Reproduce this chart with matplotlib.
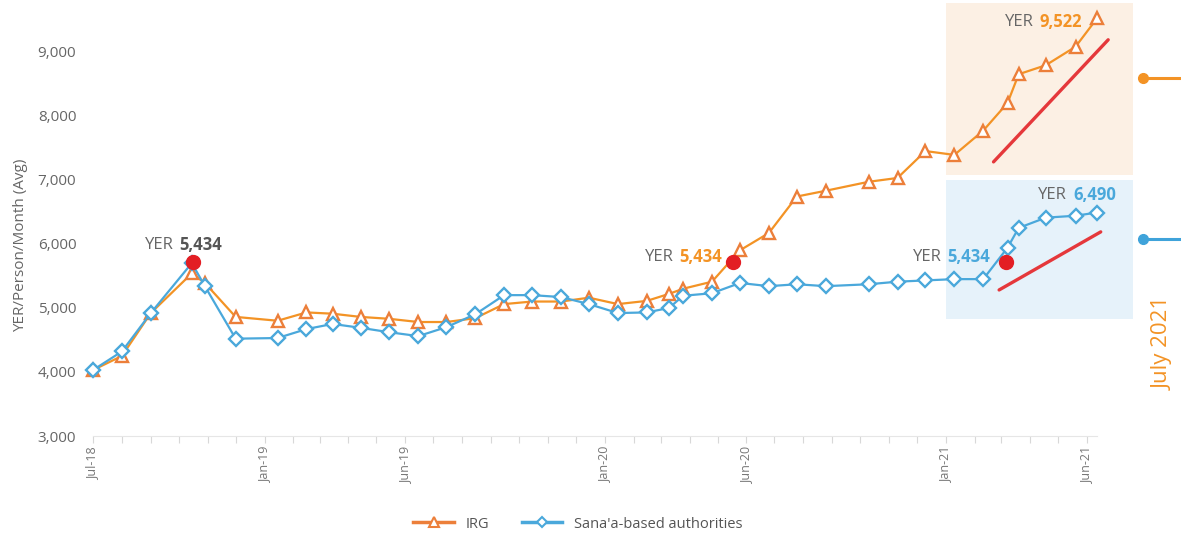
import matplotlib
matplotlib.use("Agg")
import matplotlib.pyplot as plt
import pandas as pd
from matplotlib.lines import Line2D
from matplotlib.patches import Rectangle

ORANGE = "#F39325"
ORANGE_EDGE = "#EC7F3A"
BLUE = "#4AA8DB"
RED = "#E31E24"
GREY = "#666666"

dates = [
    "2018-07-01", "2018-08-01", "2018-09-01", "2018-10-15", "2018-10-29", "2018-12-01",
    "2019-01-15", "2019-02-15", "2019-03-15", "2019-04-14", "2019-05-15", "2019-06-15",
    "2019-07-15", "2019-08-15", "2019-09-15", "2019-10-15", "2019-11-15", "2019-12-15",
    "2020-01-15", "2020-02-15", "2020-03-10", "2020-03-25", "2020-04-25", "2020-05-25",
    "2020-06-25", "2020-07-25", "2020-08-25", "2020-10-10", "2020-11-10", "2020-12-10",
    "2021-01-10", "2021-02-10", "2021-03-08", "2021-03-20", "2021-04-18", "2021-05-20",
    "2021-06-12",
]
irg = [
    4030, 4250, 4920, 5540, 5390, 4860, 4800, 4930, 4910, 4860, 4830, 4780, 4780,
    4840, 5060, 5100, 5100, 5160, 5060, 5110, 5220, 5300, 5410, 5900, 6170, 6740,
    6830, 6970, 7030, 7450, 7390, 7770, 8200, 8650, 8790, 9080, 9522,
]
sanaa = [
    4030, 4320, 4920, 5700, 5340, 4520, 4530, 4670, 4750, 4690, 4620, 4560, 4700,
    4900, 5200, 5200, 5170, 5060, 4920, 4930, 5000, 5190, 5230, 5390, 5340, 5370,
    5340, 5370, 5410, 5430, 5450, 5450, 5940, 6250, 6410, 6440, 6490,
]

# red highlight dots and the two red trend strokes
dot_dates = ["2018-10-16", "2020-05-17", "2021-03-06"]
dot_values = [5720, 5720, 5720]
trend_irg_dates = ["2021-02-21", "2021-06-24"]
trend_irg_values = [7281, 9188]
trend_sanaa_dates = ["2021-02-27", "2021-06-16"]
trend_sanaa_values = [5281, 6188]

labelled_months = ["2018-07", "2019-01", "2019-06", "2020-01", "2020-06", "2021-01", "2021-06"]

plt.rcParams.update({"font.family": ["Open Sans", "DejaVu Sans"]})

W, H = 1181, 540
fig = plt.figure(figsize=(W / 100, H / 100), dpi=100)


def px(x, y):
    return x / W, 1 - y / H


ax = fig.add_axes([93 / W, 1 - 436 / H, (1097 - 93) / W, (436 - 7) / H])
ax.set_facecolor("none")

x = pd.to_datetime(dates)
ax.plot(x, irg, color=ORANGE, lw=1.6, marker="^", ms=9, mfc="white", mec=ORANGE_EDGE,
        mew=1.7, clip_on=False, zorder=3)
ax.plot(x, sanaa, color=BLUE, lw=1.6, marker="D", ms=6.8, mfc="white", mec=BLUE,
        mew=1.7, clip_on=False, zorder=3)
ax.plot(pd.to_datetime(dot_dates), dot_values, ls="none", marker="o", ms=10, color=RED,
        clip_on=False, zorder=4)
ax.plot(pd.to_datetime(trend_irg_dates), trend_irg_values, color="#E5383B", lw=2.4,
        clip_on=False, zorder=3, solid_capstyle="round")
ax.plot(pd.to_datetime(trend_sanaa_dates), trend_sanaa_values, color="#E5383B", lw=2.4,
        clip_on=False, zorder=3, solid_capstyle="round")

ax.set_xlim(pd.Timestamp("2018-07-01"), pd.Timestamp("2021-06-12"))
ax.set_ylim(3000, 9700)

months = pd.date_range("2018-07-01", "2021-06-01", freq="MS")
ax.set_xticks(months)
ax.set_xticklabels([m.strftime("%b-%y") if m.strftime("%Y-%m") in labelled_months else ""
                    for m in months], rotation=90, fontsize=9, color="#777777")
ax.tick_params(axis="x", length=5, color="#d8d8d8", pad=3)

ax.set_yticks(range(3000, 10000, 1000))
ax.set_yticklabels([f"{v:,}" for v in range(3000, 10000, 1000)], fontsize=11, color=GREY)
ax.tick_params(axis="y", length=0, pad=12)
ax.set_ylabel("YER/Person/Month (Avg)", fontsize=11, color=GREY)
ax.yaxis.set_label_coords(-0.065, 0.445)

for side in ["left", "top", "right"]:
    ax.spines[side].set_visible(False)
ax.spines["bottom"].set_color("#e6e6e6")

# shaded highlight panels behind the 2021 segment
fig.add_artist(Rectangle(px(946, 175), (1133 - 946) / W, (175 - 3) / H, transform=fig.transFigure,
                         facecolor="#FCF0E4", edgecolor="none", zorder=-1))
fig.add_artist(Rectangle(px(946, 319), (1133 - 946) / W, (319 - 180) / H, transform=fig.transFigure,
                         facecolor="#E6F2FA", edgecolor="none", zorder=-1))

# value callouts: grey "YER" followed by a bold coloured number
callouts = [
    (174, 179, 245, "5,434", "#555555"),
    (674, 679, 257, "5,434", ORANGE),
    (942, 947, 257, "5,434", BLUE),
    (1034, 1040, 22, "9,522", ORANGE),
    (1067, 1073, 195, "6,490", BLUE),
]
for xr, xl, y, num, color in callouts:
    fig.text(*px(xr, y), "YER", ha="right", va="center", fontsize=12, color=GREY)
    fig.text(*px(xl, y), num, ha="left", va="center", fontsize=12, color=color, fontweight="bold")

# right-hand connectors
for y, color in [(78, ORANGE), (239, "#3FA3DA")]:
    x0, y0 = px(1143, y)
    fig.add_artist(Line2D([x0, 1.0], [y0, y0], transform=fig.transFigure, color=color, lw=2.2,
                          marker="o", ms=7, markevery=[0]))
fig.text(*px(1163, 343), "July 2021", rotation=90, ha="center", va="center", fontsize=16, color=ORANGE)

handles = [
    Line2D([], [], color=ORANGE_EDGE, lw=2.5, marker="^", ms=7, mfc="white", mec=ORANGE_EDGE, mew=1.5),
    Line2D([], [], color=BLUE, lw=2.5, marker="D", ms=5, mfc="white", mec=BLUE, mew=1.5),
]
fig.legend(handles, ["IRG", "Sana'a-based authorities"], loc="center", bbox_to_anchor=px(578, 524),
           ncol=2, frameon=False, fontsize=10.5, labelcolor="#555555", handlelength=2.8,
           columnspacing=2.2, handletextpad=0.8)

fig.savefig("out.png", dpi=100)
